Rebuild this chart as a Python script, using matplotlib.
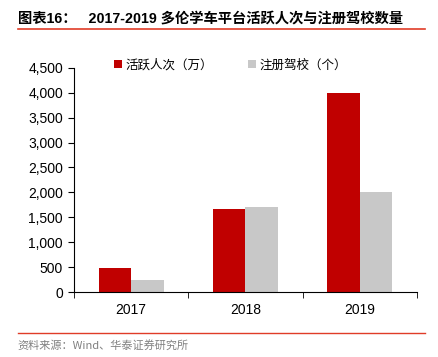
import matplotlib.pyplot as plt
import numpy as np
from matplotlib.lines import Line2D
from matplotlib.ticker import FuncFormatter

plt.rcParams['font.family'] = ['Liberation Sans', 'Noto Sans CJK SC', 'DejaVu Sans']

# DATA
years = ['2017', '2018', '2019']
active_users = [480, 1670, 4000]     # 活跃人次（万）
driving_schools = [240, 1710, 2000]  # 注册驾校（个）
series_names = ['活跃人次（万）', '注册驾校（个）']

RED = '#c00000'
GRAY = '#c8c8c8'

fig = plt.figure(figsize=(4.38, 3.57), dpi=100)
ax = fig.add_axes([0.169, 0.182, 0.783, 0.628])

x = np.arange(len(years))
w = 0.285
ax.bar(x - w / 2, active_users, width=w, color=RED, label=series_names[0])
ax.bar(x + w / 2, driving_schools, width=w, color=GRAY, label=series_names[1])

ax.set_ylim(0, 4500)
ax.set_yticks(np.arange(0, 4501, 500))
ax.yaxis.set_major_formatter(FuncFormatter(lambda v, p: f'{int(v):,}'))
ax.set_xlim(-0.5, 2.5)
ax.set_xticks(x)
ax.set_xticklabels(years)
ax.set_xticks(np.arange(-0.5, 3, 1), minor=True)
ax.tick_params(axis='x', which='major', length=0, pad=8, labelsize=10)
ax.tick_params(axis='x', which='minor', length=4, direction='out')
ax.tick_params(axis='y', length=4, direction='out', labelsize=10, pad=4)

for s in ['top', 'right']:
    ax.spines[s].set_visible(False)
ax.spines['left'].set_position(('data', -0.5))

leg = ax.legend(loc='center left', bbox_to_anchor=(0.085, 1.013), ncol=2, frameon=False,
                handlelength=0.6, handleheight=0.6, handletextpad=0.3, columnspacing=2.8,
                prop={'family': ['Noto Sans CJK SC'], 'size': 9})

# title and decorations
fig.text(0.04, 0.948, '图表16：   2017-2019 多伦学车平台活跃人次与注册驾校数量',
         fontsize=10.3, fontweight='bold', family=['Liberation Sans', 'Noto Sans CJK SC'],
         va='center', ha='left')
fig.add_artist(Line2D([0.04, 0.97], [0.919, 0.919], color='#e03c28', lw=1.2))
fig.add_artist(Line2D([0.04, 0.97], [0.067, 0.067], color='#e03c28', lw=1.0))
fig.text(0.04, 0.033, '资料来源：Wind、华泰证券研究所', fontsize=8, color='#808080',
         family=['Noto Sans CJK SC', 'Liberation Sans'], va='center', ha='left')

fig.savefig('out.png', dpi=100)
